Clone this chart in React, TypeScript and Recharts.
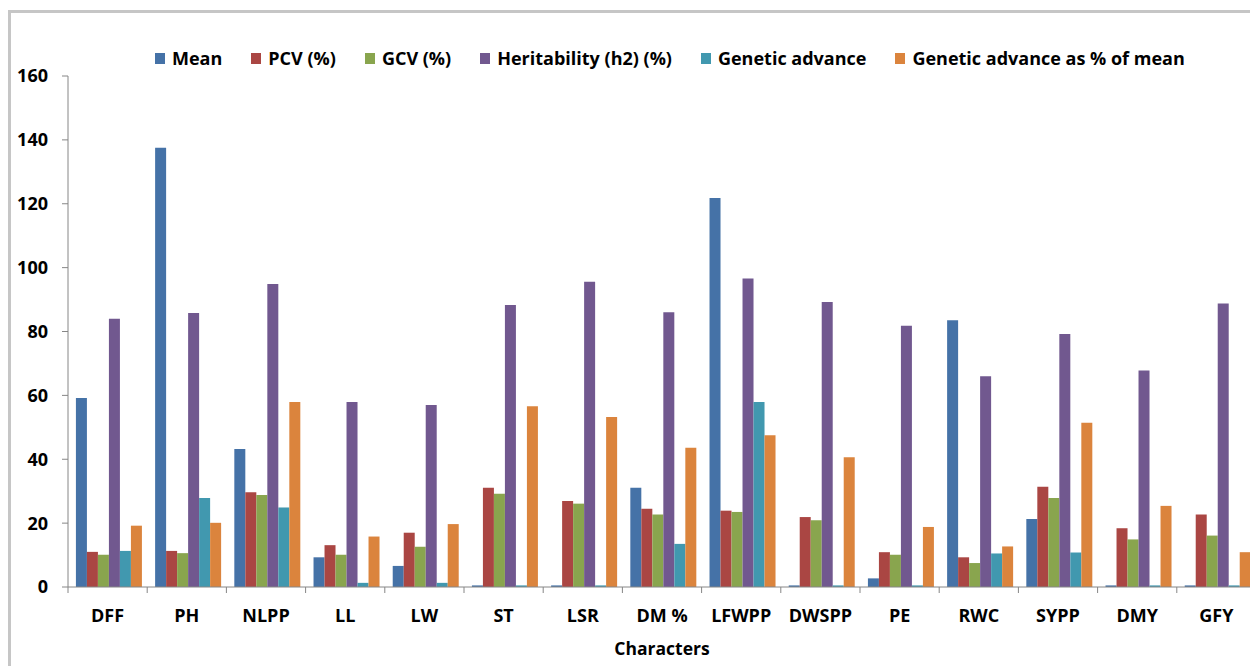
import { Bar, BarChart, Label, XAxis, YAxis } from "recharts";

const characters = ["DFF", "PH", "NLPP", "LL", "LW", "ST", "LSR", "DM %", "LFWPP", "DWSPP", "PE", "RWC", "SYPP", "DMY", "GFY"];
const mean = [59.2, 137.5, 43.2, 9.3, 6.6, 0.5, 0.5, 31.1, 121.8, 0.5, 2.7, 83.5, 21.3, 0.5, 0.5];
const pcv = [11.0, 11.3, 29.7, 13.1, 17.0, 31.1, 26.9, 24.5, 23.9, 21.9, 10.9, 9.3, 31.4, 18.4, 22.7];
const gcv = [10.1, 10.6, 28.8, 10.1, 12.6, 29.2, 26.1, 22.7, 23.5, 20.9, 10.1, 7.5, 27.9, 14.9, 16.1];
const heritability = [84.0, 85.8, 94.9, 57.9, 57.0, 88.3, 95.6, 86.0, 96.6, 89.2, 81.8, 66.0, 79.2, 67.8, 88.8];
const geneticAdvance = [11.3, 27.9, 24.9, 1.3, 1.3, 0.5, 0.5, 13.5, 57.9, 0.5, 0.5, 10.5, 10.8, 0.5, 0.5];
const gaPercentOfMean = [19.2, 20.1, 57.9, 15.8, 19.7, 56.6, 53.2, 43.6, 47.5, 40.6, 18.8, 12.7, 51.4, 25.4, 10.9];
const yTicks = [0, 20, 40, 60, 80, 100, 120, 140, 160];

const series = [
  { key: "mean", name: "Mean", color: "#4572A7", values: mean },
  { key: "pcv", name: "PCV (%)", color: "#AA4643", values: pcv },
  { key: "gcv", name: "GCV (%)", color: "#89A54E", values: gcv },
  { key: "h2", name: "Heritability (h2) (%)", color: "#71588F", values: heritability },
  { key: "ga", name: "Genetic advance", color: "#4198AF", values: geneticAdvance },
  { key: "gam", name: "Genetic advance as % of mean", color: "#DB843D", values: gaPercentOfMean },
];

const data = characters.map((c, i) => {
  const row: Record<string, string | number> = { character: c };
  series.forEach((s) => (row[s.key] = s.values[i]));
  return row;
});

const FONT = "'Open Sans', sans-serif";
const AXIS = "#868686";

// category labels plus the tick marks between groups, like Excel draws them
function CategoryTick(props: any) {
  const { x, y, payload, index } = props;
  const half = payload?.offset || 39.6;
  return (
    <g>
      <line x1={x - half} x2={x - half} y1={y - 6} y2={y} stroke={AXIS} />
      {index === characters.length - 1 && (
        <line x1={x + half} x2={x + half} y1={y - 6} y2={y} stroke={AXIS} />
      )}
      <text x={x} y={y} dy={29} textAnchor="middle" fontFamily={FONT} fontWeight={700} fontSize={18} fill="#000">
        {payload.value}
      </text>
    </g>
  );
}

export default function App() {
  return (
    <div style={{ position: "relative", width: 1258, height: 666, margin: "-8px 0 0 -8px", background: "#fff", fontFamily: FONT, overflow: "hidden" }}>
      <div style={{ position: "absolute", left: 8, top: 10, right: -4, bottom: -4, border: "3px solid #c6c6c6" }} />
      <div style={{ position: "absolute", top: 46, left: 155, display: "flex", gap: 29 }}>
        {series.map((s) => (
          <div key={s.key} style={{ display: "flex", alignItems: "center", fontWeight: 700, fontSize: 18, color: "#000", whiteSpace: "nowrap" }}>
            <span style={{ display: "inline-block", width: 10, height: 11, background: s.color, marginRight: 7 }} />
            {s.name}
          </div>
        ))}
      </div>
      <div style={{ position: "absolute", left: 0, top: 0 }}>
        <BarChart width={1258} height={666} data={data} margin={{ top: 76, right: 2, bottom: 0, left: 8 }} barCategoryGap="10%" barGap={0}>
          <XAxis dataKey="character" interval={0} tickLine={false} tickSize={6} tickMargin={0} height={79} axisLine={{ stroke: AXIS }} tick={<CategoryTick />}>
            <Label value="Characters" position="insideBottom" offset={11} style={{ fontFamily: FONT, fontWeight: 700, fontSize: 17.5, fill: "#000" }} />
          </XAxis>
          <YAxis width={60} domain={[0, 160]} ticks={yTicks} interval={0} tickSize={6} tickMargin={14} axisLine={{ stroke: AXIS }} tickLine={{ stroke: AXIS }} tick={{ fontFamily: FONT, fontWeight: 700, fontSize: 18, fill: "#000" }} />
          {series.map((s) => (
            <Bar key={s.key} dataKey={s.key} name={s.name} fill={s.color} isAnimationActive={false} />
          ))}
        </BarChart>
      </div>
    </div>
  );
}
